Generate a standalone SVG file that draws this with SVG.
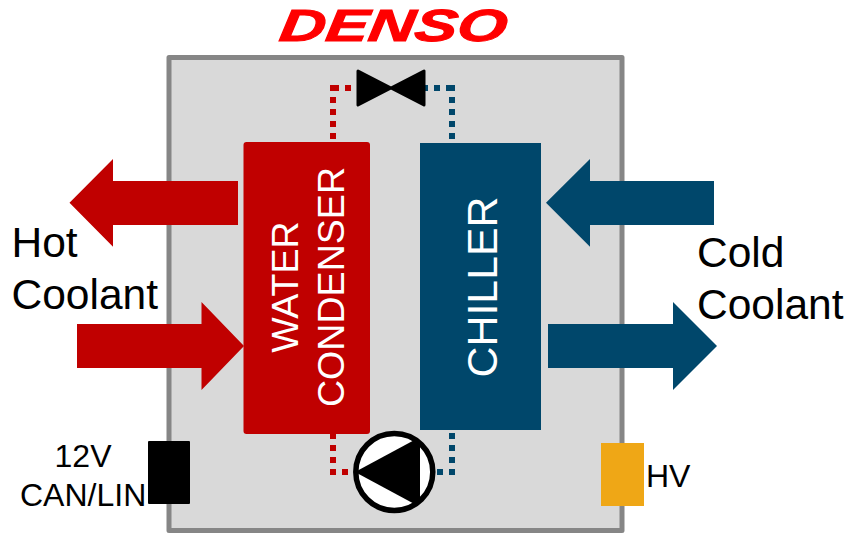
<svg xmlns="http://www.w3.org/2000/svg" width="848" height="534" viewBox="0 0 848 534">
<style>
text{font-family:"Liberation Sans",Arial,sans-serif}
.lbl{font-size:42.500px;fill:#000}
.sm{font-size:32px;fill:#000}
.w{fill:#fff}
.red{fill:#C00000}
.blue{fill:#00476B}
.dr,.db{fill:none;stroke-width:6;stroke-dasharray:6 6}
.dr{stroke:#C00000}
.db{stroke:#00476B}
</style>
<defs><clipPath id="pc"><circle cx="394.3" cy="472" r="38.5"/></clipPath></defs>
<text id="logo" transform="translate(278 41) skewX(-8) scale(1.42 1)" font-size="45" font-weight="700" font-style="italic" fill="#FF0000" stroke="#FF0000" stroke-width="1">DENSO</text>
<g id="housing"><rect x="169" y="57.5" width="453" height="473" fill="#D9D9D9" stroke="#868686" stroke-width="5" stroke-linejoin="round"/></g>
<g id="connectors">
<path class="dr" d="M333 139V85"/><path class="dr" d="M333 88H354"/>
<path class="db" d="M452 139V85"/><path class="db" d="M452 88H424"/>
<path class="dr" d="M333 433V475"/><path class="dr" d="M330 472H354"/>
<path class="db" d="M452 433V475"/><path class="db" d="M455 472H436"/>
<polygon class="red" points="238,181 113,181 113,159 69.500,202.800 113,246.700 113,225 238,225"/>
<polygon class="red" points="77,324 201.500,324 201.500,302 244,346 201.500,390 201.500,368 77,368"/>
<polygon class="blue" points="714,181 590,181 590,159 546,202.800 590,246.700 590,225 714,225"/>
<polygon class="blue" points="548,324 673,324 673,302 717,346 673,390 673,368 548,368"/>
</g>
<g id="valve"><path d="M358 71L391 88L424 71V105L391 88L358 105Z" fill="#000" stroke="#000" stroke-width="3" stroke-linejoin="round"/></g>
<g id="condenser"><rect x="243.500" y="142" width="126.500" height="292" rx="3" class="red"/>
<text class="w" font-size="37.600" text-anchor="middle" transform="translate(298 287) rotate(-90)">WATER</text>
<text class="w" font-size="37.600" text-anchor="middle" transform="translate(344 287) rotate(-90)">CONDENSER</text></g>
<g id="chiller"><rect x="420" y="143" width="121" height="287" class="blue"/>
<text class="w" font-size="42.800" text-anchor="middle" transform="translate(496.500 287) rotate(-90)">CHILLER</text></g>
<g id="pump"><circle cx="394.300" cy="472" r="38.500" fill="#fff"/>
<polygon points="355,472 420,437 420,507" fill="#000" clip-path="url(#pc)"/>
<circle cx="394.300" cy="472" r="38.500" fill="none" stroke="#000" stroke-width="5.500"/></g>
<g id="lv-connector"><rect x="148" y="441" width="42" height="63" rx="1" fill="#000"/></g>
<g id="hv-connector"><rect x="601" y="443" width="43" height="63" fill="#EFA716"/></g>
<g id="labels">
<text class="lbl" x="11.500" y="257">Hot</text>
<text class="lbl" x="11.500" y="309">Coolant</text>
<text class="lbl" x="697" y="267">Cold</text>
<text class="lbl" x="697" y="319">Coolant</text>
<text class="sm" x="83" y="467" text-anchor="middle">12V</text>
<text class="sm" x="20" y="506">CAN/LIN</text>
<text class="sm" x="646" y="487">HV</text>
</g>
</svg>
